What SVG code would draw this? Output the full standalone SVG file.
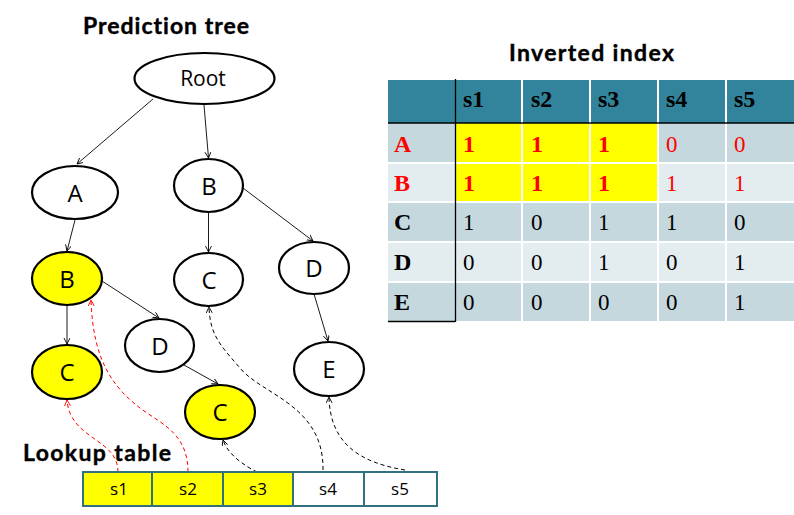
<svg xmlns="http://www.w3.org/2000/svg" width="794" height="515" viewBox="0 0 794 515">
<defs>
<marker id="arr" markerWidth="8" markerHeight="8" refX="6" refY="3" orient="auto" markerUnits="userSpaceOnUse">
<path d="M0,0 L6,3 L0,6" fill="none" stroke="#000" stroke-width="0.9"/>
</marker>
<marker id="arrR" markerWidth="8" markerHeight="8" refX="6" refY="3" orient="auto" markerUnits="userSpaceOnUse">
<path d="M0,0 L6,3 L0,6" fill="none" stroke="#f00" stroke-width="0.9"/>
</marker>
<style>
.title{font-family:Lato,"Liberation Sans",sans-serif;font-weight:bold;font-size:23px;fill:#000;font-variant-ligatures:none;stroke:#000;stroke-width:0.4}
.node ellipse{stroke:#000;stroke-width:2.2;fill:#fff}
.node.hl ellipse{fill:#ffff00}
.node text{font-family:"Open Sans","DejaVu Sans",sans-serif;font-size:24px;fill:#000;text-anchor:middle}
.edge{stroke:#000;stroke-width:0.9;fill:none;marker-end:url(#arr)}
.dash{stroke:#000;stroke-width:1;fill:none;stroke-dasharray:4,3;marker-end:url(#arr)}
.dashR{stroke:#f00;stroke-width:1;fill:none;stroke-dasharray:4,3;marker-end:url(#arrR)}
.lk rect{stroke:#31707f;stroke-width:2}
.lk text{font-family:"Open Sans","DejaVu Sans",sans-serif;font-size:17px;fill:#000;text-anchor:middle}
.th{font-family:"Liberation Serif",serif;font-weight:bold;font-size:24px;fill:#000}
.rl{font-family:"Liberation Serif",serif;font-weight:bold;font-size:24px}
.v{font-family:"Liberation Serif",serif;font-size:23px;fill:#000}
.vb{font-family:"Liberation Serif",serif;font-weight:bold;font-size:24px;fill:#f00}
.vr{font-family:"Liberation Serif",serif;font-size:23px;fill:#f00}
.grid{stroke:#fff;stroke-width:2}
</style>
</defs>
<rect width="794" height="515" fill="#fff"/>

<text class="title" x="83" y="34" textLength="166">Prediction tree</text>
<text class="title" x="509" y="61" textLength="165">Inverted index</text>
<text class="title" x="23" y="461" textLength="148">Lookup table</text>

<!-- Inverted index table -->
<g id="inverted-index">
<rect x="388" y="80" width="406" height="43" fill="#31849b"/>
<rect x="388" y="123" width="406" height="40" fill="#c5d8de"/>
<rect x="388" y="163" width="406" height="39" fill="#e3ecef"/>
<rect x="388" y="202" width="406" height="40" fill="#c5d8de"/>
<rect x="388" y="242" width="406" height="40" fill="#e3ecef"/>
<rect x="388" y="282" width="406" height="39" fill="#c5d8de"/>
<rect x="455" y="123" width="203" height="79" fill="#ffff00"/>
<g class="grid">
<line x1="522" y1="80" x2="522" y2="321"/>
<line x1="590" y1="80" x2="590" y2="321"/>
<line x1="658" y1="80" x2="658" y2="321"/>
<line x1="726" y1="80" x2="726" y2="321"/>
<line x1="388" y1="163" x2="794" y2="163"/>
<line x1="388" y1="202" x2="794" y2="202"/>
<line x1="388" y1="242" x2="794" y2="242"/>
<line x1="388" y1="282" x2="794" y2="282"/>
</g>
<line x1="455.5" y1="79" x2="455.5" y2="322" stroke="#000" stroke-width="1.3"/>
<line x1="388" y1="123" x2="794" y2="123" stroke="#000" stroke-width="1.3"/>
<line x1="388" y1="321.5" x2="455" y2="321.5" stroke="#000" stroke-width="1.3"/>
<text class="th" x="463" y="107">s1</text>
<text class="th" x="531" y="107">s2</text>
<text class="th" x="598" y="107">s3</text>
<text class="th" x="666" y="107">s4</text>
<text class="th" x="734" y="107">s5</text>
<text class="rl" x="394" y="152" fill="#f00">A</text>
<text class="rl" x="394" y="191" fill="#f00">B</text>
<text class="rl" x="394" y="230" fill="#000">C</text>
<text class="rl" x="394" y="270" fill="#000">D</text>
<text class="rl" x="394" y="310" fill="#000">E</text>
<text class="vb" x="463" y="152">1</text><text class="vb" x="531" y="152">1</text><text class="vb" x="598" y="152">1</text><text class="vr" x="666" y="152">0</text><text class="vr" x="734" y="152">0</text>
<text class="vb" x="463" y="191">1</text><text class="vb" x="531" y="191">1</text><text class="vb" x="598" y="191">1</text><text class="vr" x="666" y="191">1</text><text class="vr" x="734" y="191">1</text>
<text class="v" x="463" y="230">1</text><text class="v" x="531" y="230">0</text><text class="v" x="598" y="230">1</text><text class="v" x="666" y="230">1</text><text class="v" x="734" y="230">0</text>
<text class="v" x="463" y="270">0</text><text class="v" x="531" y="270">0</text><text class="v" x="598" y="270">1</text><text class="v" x="666" y="270">0</text><text class="v" x="734" y="270">1</text>
<text class="v" x="463" y="310">0</text><text class="v" x="531" y="310">0</text><text class="v" x="598" y="310">0</text><text class="v" x="666" y="310">0</text><text class="v" x="734" y="310">1</text>
</g>

<!-- connectors -->
<g id="connectors">
<path class="edge" d="M153,99 L77,164"/>
<path class="edge" d="M204,105 L208.5,158"/>
<path class="edge" d="M75,220 L67,251"/>
<path class="edge" d="M208.5,212 L208.5,252"/>
<path class="edge" d="M243,188 L313,241"/>
<path class="edge" d="M67,305 L67,344"/>
<path class="edge" d="M102,281 L159,318"/>
<path class="edge" d="M184,365 L218,384"/>
<path class="edge" d="M314,294 L328,341"/>
<path class="dashR" d="M118,472 C118,438 70,440 67,400"/>
<path class="dashR" d="M188,472 C188,440 170,428 150,415 C112,390 93,360 91,300"/>
<path class="dash" d="M257,472 C245,466 228,455 223,440"/>
<path class="dash" d="M323,470 C324,405 262,395 240,368 C220,345 210,335 209,307"/>
<path class="dash" d="M405,470 C362,463 330,445 329,397"/>
</g>

<!-- nodes -->
<g id="n-root" class="node"><ellipse cx="204.5" cy="78.5" rx="70" ry="25.5"/><text x="203" y="86" style="font-size:21px">Root</text></g>
<g id="n-a" class="node"><ellipse cx="75" cy="192.5" rx="43" ry="26.5"/><text x="75" y="202">A</text></g>
<g id="n-b" class="node"><ellipse cx="208.5" cy="185.5" rx="34.5" ry="26.5"/><text x="209" y="195">B</text></g>
<g id="n-ab" class="node hl"><ellipse cx="67" cy="278.5" rx="35" ry="26.5"/><text x="67" y="288">B</text></g>
<g id="n-abc" class="node hl"><ellipse cx="67" cy="372" rx="35" ry="27"/><text x="67" y="381">C</text></g>
<g id="n-bc" class="node"><ellipse cx="208.5" cy="279.5" rx="34.5" ry="26.5"/><text x="209" y="289">C</text></g>
<g id="n-bd" class="node"><ellipse cx="314" cy="268" rx="35" ry="26"/><text x="314" y="277">D</text></g>
<g id="n-abd" class="node"><ellipse cx="159.5" cy="345.5" rx="34.5" ry="26.5"/><text x="160" y="355">D</text></g>
<g id="n-abdc" class="node hl"><ellipse cx="220" cy="412" rx="35" ry="27"/><text x="220" y="421">C</text></g>
<g id="n-bde" class="node"><ellipse cx="329" cy="369" rx="35" ry="27"/><text x="329" y="378">E</text></g>

<!-- lookup table -->
<g id="lookup" class="lk">
<rect x="83" y="472" width="69" height="34" fill="#ffff00"/>
<rect x="152" y="472" width="71" height="34" fill="#ffff00"/>
<rect x="223" y="472" width="70" height="34" fill="#ffff00"/>
<rect x="293" y="472" width="71" height="34" fill="#fff"/>
<rect x="364" y="472" width="73" height="34" fill="#fff"/>
<text x="119" y="495">s1</text>
<text x="188" y="495">s2</text>
<text x="258" y="495">s3</text>
<text x="328" y="495">s4</text>
<text x="400" y="495">s5</text>
</g>
</svg>
